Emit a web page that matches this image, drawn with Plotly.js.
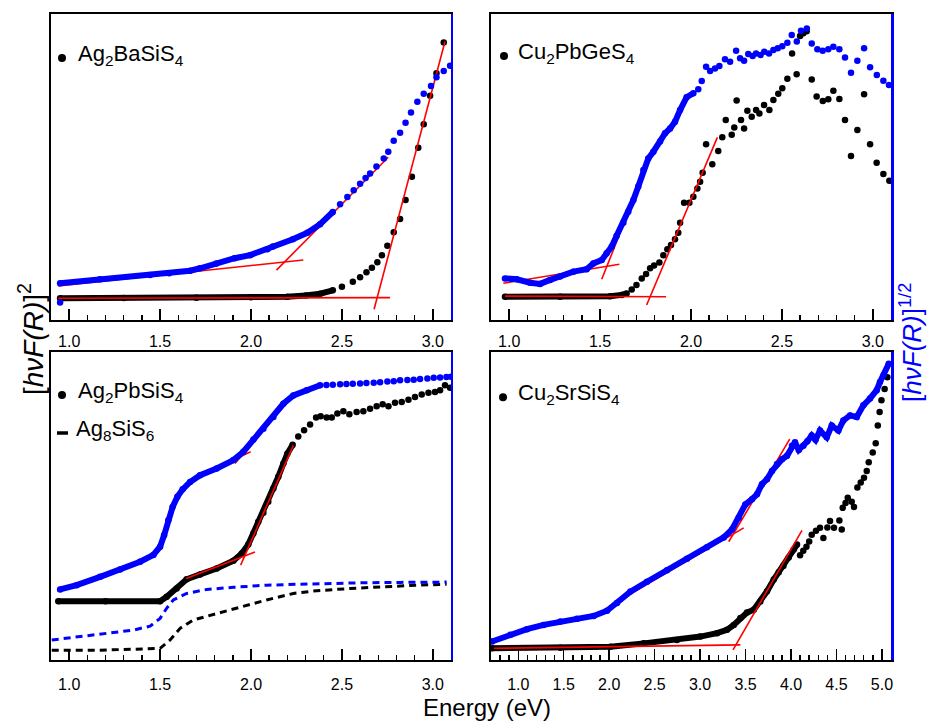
<!DOCTYPE html>
<html>
<head>
<meta charset="utf-8">
<script src="https://cdn.plot.ly/plotly-3.0.1.min.js"></script>
<style>html,body{margin:0;padding:0;background:#fff;}#chart{width:931px;height:722px;}</style>
</head>
<body>
<div id="chart"></div>
<script>
// ---------- DATA (energy in eV, intensity in arbitrary units, 0-100 of panel height) ----------
// Top-left: Ag2BaSiS4
const tlBlackE = [0.95,1.3,1.7,2.0,2.2,2.3,2.38,2.45, 2.50,2.56,2.60,2.635,2.665,2.695,2.72,2.75,2.785,2.82,2.85,2.885,2.92,2.95,2.985,3.02,3.06];
const tlBlackY = [7.1,7.2,7.3,7.4,7.6,8.0,8.6,9.7, 10.9,12.5,14.0,15.6,17.1,18.9,21.2,24.3,28.7,33.0,39.2,46.8,56.3,64.0,73.3,80.6,90.7];
const tlBlackDense = [0, 8];
const tlBlueE = [0.95, 0.95,1.17,1.445,1.55,1.665,1.72,1.81,1.91,1.995,2.09,2.12,2.23,2.31,2.38,2.45, 2.49,2.53,2.565,2.60,2.63,2.655,2.69,2.73,2.755,2.785,2.82,2.85,2.88,2.915,2.95,2.99,3.02,3.06,3.095];
const tlBlueY = [5.7, 12.0,13.3,14.7,15.3,16.1,16.9,18.5,20.2,21.2,23.1,24.0,26.4,28.5,31.3,35.3, 37.8,40.2,42.4,44.5,46.4,47.9,50.2,52.8,55.0,58.6,61.2,64.5,67.8,71.3,73.9,76.5,79.3,81.4,83.1];
const tlBlueDense = [1, 16];
const tlFitE = [[0.94,2.288],[2.14,2.755],[0.94,2.765],[2.677,3.067]];
const tlFitY = [[11.1,19.6],[16.3,53.2],[7.1,7.3],[3.5,91.0]];

// Top-right: Cu2PbGeS4
const trBlackE = [0.977,1.28,1.555,1.619,1.646, 1.674,1.70,1.729,1.753,1.775,1.797,1.826,1.848,1.87,1.89,1.912,1.93,1.94,1.962,1.991,2.013,2.035,2.05,2.064,2.083,2.117,2.15,2.172,2.191,2.224,2.238,2.251,2.275,2.292,2.31,2.334,2.358,2.376,2.402,2.431,2.453,2.48,2.502,2.53,2.556,2.581,2.60,2.618,2.636,2.664,2.691,2.725,2.755,2.783,2.816,2.847,2.88,2.915,2.952,2.985,3.021,3.058,3.091];
const trBlackY = [7.6,7.6,7.8,8.2,8.7, 10.0,11.4,13.6,15.0,16.9,17.8,18.8,21.2,23.1,24.5,26.4,28.5,31.8,38.3,38.3,40.3,43.0,45.2,48.1,57.4,50.9,55.2,59.7,65.4,60.5,62.9,71.7,65.4,62.6,68.4,66.4,68.6,67.5,70.3,68.6,71.9,73.9,75.7,78.8,87.1,80.3,92.8,93.7,94.4,78.6,73.0,71.6,72.1,74.9,72.2,65.4,53.6,62.1,73.8,57.4,51.4,47.7,45.5];
const trBlackDense = [0, 5];
const trBlueE = [0.977,1.041,1.115,1.17,1.225,1.28,1.353,1.426,1.463,1.509,1.536,1.564,1.591,1.628,1.655,1.683,1.71,1.738,1.765,1.793,1.83,1.857,1.885,1.912,1.94,1.976,2.013, 2.04,2.059,2.083,2.105,2.132,2.156,2.187,2.215,2.248,2.27,2.292,2.315,2.339,2.358,2.383,2.403,2.429,2.453,2.477,2.502,2.53,2.554,2.582,2.605,2.637,2.664,2.695,2.724,2.755,2.783,2.816,2.847,2.88,2.915,2.952,2.985,3.022,3.058,3.089];
const trBlueY = [13.6,13.3,12.2,11.8,13.1,14.2,15.8,16.6,18.5,19.6,21.8,24.0,27.5,31.8,35.4,39.2,43.6,49.0,52.8,55.0,58.3,61.0,62.6,64.8,68.6,72.8,74.1, 75.4,78.1,82.8,81.4,82.2,83.0,85.2,84.4,88.0,85.5,84.7,86.9,86.3,87.1,86.6,87.7,87.1,88.2,88.8,89.5,90.6,93.1,91.0,94.5,95.3,90.4,88.5,88.0,88.5,89.3,88.5,85.8,80.8,84.7,88.8,82.6,80.1,78.2,76.8];
const trBlueDense = [0, 27];
const trFitE = [[0.968,1.606],[1.509,1.762],[0.977,1.863],[1.756,2.145]];
const trFitY = [[12.0,18.2],[13.3,51.2],[7.8,7.6],[4.9,59.7]];

// Bottom-left: Ag2PbSiS4 (dots) and Ag8SiS6 (dashed)
const blBlackE = [0.94,1.2,1.5,1.536,1.591,1.646,1.72,1.811,1.903,1.949,1.985,2.013,2.04,2.068,2.095,2.123,2.15,2.178,2.2,2.229, 2.26,2.292,2.325,2.358,2.383,2.416,2.444,2.475,2.508,2.541,2.581,2.618,2.655,2.691,2.724,2.756,2.792,2.829,2.866,2.902,2.939,2.976,3.012,3.04,3.067,3.095];
const blBlackY = [19.1,19.1,19.1,20.5,23.2,26.2,27.8,29.7,32.2,34.6,37.5,41.1,44.9,47.8,51.4,55.7,59.5,63.8,67.0,69.9, 72.6,74.6,76.5,78.7,79.1,78.7,78.7,80.0,80.8,79.8,80.5,80.8,81.6,82.4,83.0,82.4,83.5,83.8,84.5,85.4,86.2,86.8,87.0,87.6,89.2,88.4];
const blBlackDense = [0, 20];
const blBlueE = [0.95,1.041,1.17,1.28,1.39,1.463,1.50,1.522,1.545,1.569,1.595,1.624,1.665,1.72,1.811,1.903,1.958,2.013,2.068,2.123,2.178,2.233,2.306,2.38, 2.415,2.45,2.49,2.525,2.56,2.6,2.635,2.675,2.71,2.75,2.785,2.82,2.86,2.895,2.93,2.97,3.005,3.04,3.075,3.1];
const blBlueY = [22.9,24.3,27.0,29.4,31.9,34.1,36.8,40.5,45.4,49.7,53.0,55.4,57.8,60.0,62.2,64.9,67.6,71.6,75.1,78.9,83.2,85.9,87.6,89.2, 89.3,89.4,89.5,89.6,89.7,89.8,89.9,90.0,90.2,90.4,90.5,90.8,90.9,91.0,91.2,91.4,91.6,91.7,91.9,92.0];
const blBlueDense = [0, 24];
const blDashBlueE = [0.904,1.17,1.353,1.445,1.5,1.536,1.573,1.646,1.756,1.903,2.086,2.27,2.453,2.636,2.82,3.076];
const blDashBlueY = [6.5,8.4,9.7,11.0,13.5,16.8,19.5,21.6,22.9,23.6,24.3,24.6,24.9,25.1,25.2,25.3];
const blDashBlackE = [0.904,1.17,1.353,1.5,1.555,1.61,1.683,1.811,1.94,2.086,2.233,2.361,2.545,2.728,2.911,3.076];
const blDashBlackY = [3.2,3.2,3.5,3.8,6.5,10.3,13.0,15.1,17.3,19.5,21.6,22.5,23.2,23.8,24.3,24.6];
const blFitE = [[1.668,1.998],[1.912,2.218],[1.643,2.022],[1.943,2.233]];
const blFitY = [[58.4,67.6],[63.8,84.9],[26.5,35.1],[30.8,69.7]];

// Bottom-right: Cu2SrSiS4
const brBlackE = [0.711,1.463,2.013,2.38,2.746,3.003,3.186,3.296,3.37,3.443,3.516,3.59,3.663,3.736,3.81,3.865,3.916,3.975,4.03,4.066, 4.10,4.135,4.17,4.20,4.228,4.275,4.319,4.356,4.40,4.429,4.473,4.532,4.558,4.569,4.60,4.624,4.668,4.693,4.73,4.767,4.803,4.833,4.855,4.899,4.932,4.955,4.975,4.995,5.03,5.06];
const brBlackY = [3.8,4.0,4.3,5.4,6.5,7.6,8.7,9.8,11.4,13.6,15.4,16.3,19.0,22.3,26.1,28.5,30.5,33.3,35.9,37.5, 34.0,35.5,36.8,38.5,40.7,42.0,42.9,39.6,43.0,45.1,42.9,45.3,42.4,49.4,51.0,52.7,51.4,49.7,56.0,57.6,59.2,61.4,64.2,67.4,70.4,76.1,80.5,84.3,88.0,91.8];
const brBlackDense = [0, 20];
const brBlueE = [0.711,0.913,1.096,1.279,1.463,1.646,1.829,1.976,2.086,2.233,2.416,2.636,2.856,3.076,3.26,3.351,3.425,3.498,3.571,3.626,3.681,3.736,3.791,3.846,3.901,3.956,4.011,4.044,4.085,4.136,4.18,4.228,4.27,4.319,4.393,4.448,4.521,4.576,4.65,4.723,4.796,4.869,4.943,4.979,5.02,5.075];
const brBlueY = [6.0,8.2,10.0,11.4,12.5,13.4,14.3,16.0,18.5,22.2,25.4,29.1,32.9,36.6,39.8,42.4,46.2,50.5,52.2,53.8,57.1,58.7,61.4,63.6,65.2,66.3,69.6,70.7,68.2,69.6,71.0,72.9,71.5,74.5,72.3,76.1,74.5,77.8,79.4,78.9,82.7,84.9,87.6,90.3,92.5,96.2];
const brBlueDense = [0, 46];
const brFitE = [[2.104,3.48],[3.315,3.986],[0.73,3.443],[3.362,4.121]];
const brFitY = [[19.2,42.9],[38.4,71.7],[3.8,4.9],[3.3,42.1]];

const legendNames = ['Ag<sub>2</sub>BaSiS<sub>4</sub>','Cu<sub>2</sub>PbGeS<sub>4</sub>','Ag<sub>2</sub>PbSiS<sub>4</sub>','Cu<sub>2</sub>SrSiS<sub>4</sub>','Ag<sub>8</sub>SiS<sub>6</sub>'];

// ---------- STYLE ----------
const FONT = 'Liberation Sans, Arial, sans-serif';
const BLUE = '#0000ff', BLACK = '#000000', RED = '#ff0000';
const MS = 6.5, BAND = 6;

const traces = [];
function addSeries(E, Y, dense, color, xa, ya, name) {
  traces.push({type:'scatter', mode:'lines', x:E.slice(dense[0], dense[1]), y:Y.slice(dense[0], dense[1]),
    line:{color:color, width:BAND}, xaxis:xa, yaxis:ya, showlegend:false, hoverinfo:'skip'});
  traces.push({type:'scatter', mode:'markers', x:E, y:Y, marker:{color:color, size:MS, line:{width:0}},
    xaxis:xa, yaxis:ya, name:name, showlegend:false});
}
function addFits(FE, FY, xa, ya) {
  for (let i = 0; i < FE.length; i++) {
    traces.push({type:'scatter', mode:'lines', x:FE[i], y:FY[i], line:{color:RED, width:1.6},
      xaxis:xa, yaxis:ya, showlegend:false, hoverinfo:'skip'});
  }
}

addSeries(tlBlueE, tlBlueY, tlBlueDense, BLUE, 'x', 'y2', legendNames[0]);
addSeries(tlBlackE, tlBlackY, tlBlackDense, BLACK, 'x', 'y', legendNames[0]);
addFits(tlFitE, tlFitY, 'x', 'y');

addSeries(trBlueE, trBlueY, trBlueDense, BLUE, 'x2', 'y4', legendNames[1]);
addSeries(trBlackE, trBlackY, trBlackDense, BLACK, 'x2', 'y3', legendNames[1]);
addFits(trFitE, trFitY, 'x2', 'y3');

traces.push({type:'scatter', mode:'lines', x:blDashBlueE, y:blDashBlueY, line:{color:BLUE, width:3, dash:'7px,5px'}, xaxis:'x3', yaxis:'y6', name:legendNames[4], showlegend:false});
traces.push({type:'scatter', mode:'lines', x:blDashBlackE, y:blDashBlackY, line:{color:BLACK, width:3, dash:'7px,5px'}, xaxis:'x3', yaxis:'y5', name:legendNames[4], showlegend:false});
addSeries(blBlueE, blBlueY, blBlueDense, BLUE, 'x3', 'y6', legendNames[2]);
addSeries(blBlackE, blBlackY, blBlackDense, BLACK, 'x3', 'y5', legendNames[2]);
addFits(blFitE, blFitY, 'x3', 'y5');

addSeries(brBlueE, brBlueY, brBlueDense, BLUE, 'x4', 'y8', legendNames[3]);
addSeries(brBlackE, brBlackY, brBlackDense, BLACK, 'x4', 'y7', legendNames[3]);
addFits(brFitE, brFitY, 'x4', 'y7');

const XL = [0, 0.47619], XR = [0.52381, 1], YT = [0.52632, 1], YB = [0, 0.47678];
function xAxis(domain, anchor, range, standoff) {
  return {domain:domain, anchor:anchor, range:range, showgrid:false, zeroline:false, showline:true, mirror:true,
    linecolor:BLACK, linewidth:2, ticks:'inside', ticklen:11, tickwidth:1.5, tickcolor:BLACK,
    tick0:0, dtick:0.5, tickformat:'.1f', tickfont:{family:FONT, size:16, color:BLACK}, ticklabelstandoff:standoff,
    minor:{ticks:'inside', ticklen:5, tickwidth:1.5, tickcolor:BLACK, dtick:0.1, showgrid:false}, fixedrange:true};
}
function yLeft(domain, anchor) {
  return {domain:domain, anchor:anchor, range:[0,100], showgrid:false, zeroline:false, showline:true,
    linecolor:BLACK, linewidth:2, ticks:'', showticklabels:false, fixedrange:true};
}
function yRight(over, anchor) {
  return {overlaying:over, anchor:anchor, side:'right', range:[0,100], showgrid:false, zeroline:false, showline:true,
    linecolor:BLUE, linewidth:2.5, ticks:'', showticklabels:false, fixedrange:true};
}

const legendFont = {family:FONT, size:22, color:BLACK};
function legText(txt, xr, yr, x, y) {
  return {text:txt, xref:xr, yref:yr, x:x, y:y, xanchor:'left', yanchor:'middle', showarrow:false, font:legendFont};
}
function legDot(xr, yr, x, y) {
  return {type:'circle', xref:xr, yref:yr, xsizemode:'pixel', ysizemode:'pixel', xanchor:x, yanchor:y,
    x0:-4, x1:4, y0:-4, y1:4, fillcolor:BLACK, line:{width:0}};
}

const layout = {
  width:931, height:722, margin:{l:51, r:40, t:14, b:62},
  paper_bgcolor:'#fff', plot_bgcolor:'#fff', showlegend:false,
  font:{family:FONT, color:BLACK},
  xaxis:xAxis(XL, 'y', [0.9,3.1], 6),
  yaxis:yLeft(YT, 'x'), yaxis2:yRight('y', 'x'),
  xaxis2:xAxis(XR, 'y3', [0.9,3.1], 6),
  yaxis3:yLeft(YT, 'x2'), yaxis4:yRight('y3', 'x2'),
  xaxis3:xAxis(XL, 'y5', [0.9,3.1], 9),
  yaxis5:yLeft(YB, 'x3'), yaxis6:yRight('y5', 'x3'),
  xaxis4:xAxis(XR, 'y7', [0.7,5.1], 9),
  yaxis7:yLeft(YB, 'x4'), yaxis8:yRight('y7', 'x4'),
  annotations:[
    legText(legendNames[0], 'x domain', 'y domain', 0.0625, 0.866),
    legText(legendNames[1], 'x2 domain', 'y3 domain', 0.0625, 0.873),
    legText(legendNames[2], 'x3 domain', 'y5 domain', 0.0625, 0.870),
    legText(legendNames[4], 'x3 domain', 'y5 domain', 0.0575, 0.747),
    legText(legendNames[3], 'x4 domain', 'y7 domain', 0.0625, 0.863),
    {text:'[<i>hνF(R)</i>]<sup>2</sup>', xref:'paper', yref:'paper', x:-0.0238, y:0.4969, textangle:-90,
      xanchor:'center', yanchor:'middle', showarrow:false, font:{family:FONT, size:28, color:BLACK}},
    {text:'[<i>hνF(R)</i>]<sup>1/2</sup>', xref:'paper', yref:'paper', x:1.0235, y:0.492, textangle:-90,
      xanchor:'center', yanchor:'middle', showarrow:false, font:{family:FONT, size:26, color:BLUE}},
    {text:'Energy (eV)', xref:'paper', yref:'paper', x:0.519, y:-0.050, xanchor:'center', yanchor:'top',
      showarrow:false, font:{family:FONT, size:24, color:BLACK}}
  ],
  shapes:[
    legDot('x domain', 'y domain', 0.0275, 0.856),
    legDot('x2 domain', 'y3 domain', 0.0325, 0.863),
    legDot('x3 domain', 'y5 domain', 0.0275, 0.860),
    legDot('x4 domain', 'y7 domain', 0.03, 0.853),
    {type:'line', xref:'x3 domain', yref:'y5 domain', x0:0.015, x1:0.0425, y0:0.737, y1:0.737, line:{color:BLACK, width:3.5}}
  ]
};

Plotly.newPlot('chart', traces, layout, {displayModeBar:false, staticPlot:true});
</script>
</body>
</html>
